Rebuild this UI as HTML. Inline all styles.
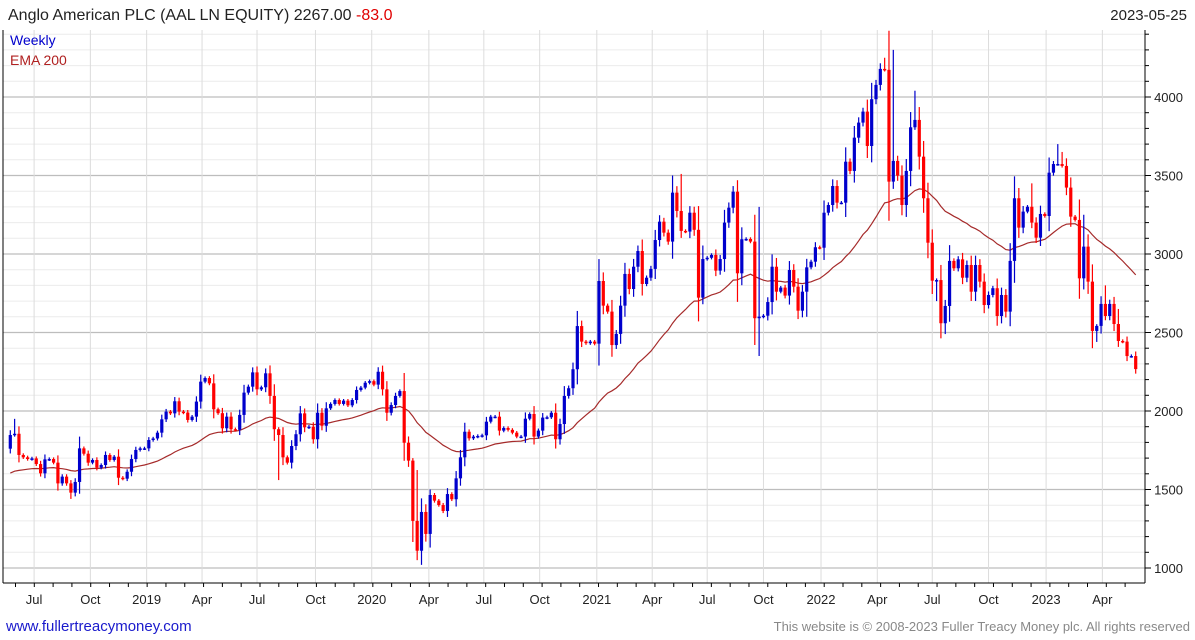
<!DOCTYPE html>
<html><head><meta charset="utf-8"><style>
body{margin:0;background:#fff;font-family:"Liberation Sans",sans-serif;}
svg{display:block}
</style></head><body>
<svg id="chart" width="1195" height="640" viewBox="0 0 1195 640" xmlns="http://www.w3.org/2000/svg" font-family="Liberation Sans, sans-serif">
<text x="8" y="20" font-size="16" fill="#222">Anglo American PLC (AAL LN EQUITY) 2267.00 <tspan fill="#e00000">-83.0</tspan></text>
<text x="1187" y="20" font-size="15" fill="#222" text-anchor="end">2023-05-25</text>
<g id="grid"></g>
<g id="ema"></g>
<g id="candles"></g>
<g id="axes"></g>
<text x="10" y="45" font-size="14" fill="#0000cc">Weekly</text>
<text x="10" y="65" font-size="14" fill="#b02020">EMA 200</text>
<text x="6" y="631" font-size="15" fill="#1a1acc">www.fullertreacymoney.com</text>
<text x="1190" y="631" font-size="13" fill="#888" text-anchor="end">This website is © 2008-2023 Fuller Treacy Money plc. All rights reserved</text>
</svg>
<script>
const closes=[1847,1855,1720,1705,1694,1698,1662,1603,1692,1694,1671,1539,1582,1539,1480,1548,1762,1728,1671,1688,1639,1656,1720,1688,1709,1575,1569,1613,1694,1752,1762,1762,1815,1825,1862,1947,1996,1985,2062,1996,1990,1943,1964,2060,2187,2210,2176,2011,1986,1890,1964,1884,1880,1975,2117,2155,2246,2138,2151,2240,2096,1884,1847,1705,1671,1777,1852,1985,1896,1900,1820,1989,1906,2017,2045,2070,2045,2066,2036,2070,2134,2149,2180,2190,2168,2250,2138,1989,2038,2096,2127,1798,1684,1300,1110,1357,1217,1465,1429,1401,1363,1471,1438,1571,1705,1868,1826,1837,1841,1845,1932,1964,1964,1875,1892,1880,1862,1837,1837,1951,1981,1837,1875,1958,1960,1989,1820,1917,2096,2145,2266,2541,2442,2432,2442,2429,2828,2671,2633,2420,2491,2671,2873,2777,2919,3019,2809,2849,2905,3089,3206,3136,3079,3391,3274,3147,3143,3263,3154,2722,2968,2976,2994,2894,2968,3200,3295,3397,2877,3094,3096,3079,2591,2601,2607,2694,2919,2760,2786,2735,2898,2792,2639,2760,2915,2951,3043,3040,3263,3312,3433,3327,3327,3588,3529,3741,3837,3907,3688,3986,4077,4179,4173,3461,3593,3499,3312,3529,3807,3854,3620,3355,3072,2830,2834,2559,2669,2956,2909,2966,2849,2930,2760,2930,2824,2675,2739,2782,2605,2739,2633,2956,3355,3168,3270,3301,3200,3104,3255,3242,3518,3573,3573,3561,3423,3238,3217,2845,3047,2824,2510,2542,2682,2605,2682,2554,2446,2442,2350,2350,2267];
const wickHigh={1:1950,93:1700,94:1624,97:1500,155:3510,168:3470,173:3300,202:4250,204:4300,209:4040,211:3720,236:3450,242:3700,243:3650,248:3250,253:2800,256:2650};
const wickLow={14:1440,62:1560,94:1050,95:1020,160:2680,173:2350,184:2600,214:2700,216:2490,231:2540,251:2440};
const firstOpen=1760;
const yTicks=[1000,1500,2000,2500,3000,3500,4000];
const xLabels=["Jul","Oct","2019","Apr","Jul","Oct","2020","Apr","Jul","Oct","2021","Apr","Jul","Oct","2022","Apr","Jul","Oct","2023","Apr"];
const xLabelWeeks=[5.5,18.5,31.5,44.3,57,70.5,83.5,96.7,109.4,122.3,135.5,148.3,161,174,187.3,200.3,213,226,239.3,252.3];
const emaSeed=1592;

const NS="http://www.w3.org/2000/svg";
const L=3,R=1145,T=30,B=583;
const n=closes.length;
function xs(i){return 10.3+i*(1125.4/(n-1));}
function ys(p){return 568-(p-1000)*0.157;}
function mk(tag,attrs,parent){const e=document.createElementNS(NS,tag);for(const k in attrs)e.setAttribute(k,attrs[k]);parent.appendChild(e);return e;}
const grid=document.getElementById('grid'),axes=document.getElementById('axes'),cg=document.getElementById('candles'),eg=document.getElementById('ema');
// horizontal grid
for(let p=900;p<=4400;p+=100){const y=ys(p);if(y<T||y>B)continue;
 const ln=mk('line',{x1:L,x2:R,y1:y,y2:y,stroke:p%500===0?'#bdbdbd':'#ececec','stroke-width':p%500===0?1.3:1},grid);
 
 
 const tk=mk('line',{x1:R,x2:R+(p%500===0?6:4),y1:y,y2:y,stroke:'#000'},axes);
 
 }
// vertical grid + labels
xLabels.forEach((lab,k)=>{const x=xs(xLabelWeeks[k]);
 const ln=mk('line',{x1:x,x2:x,y1:T,y2:B,stroke:'#dcdcdc'},grid);
 
 
 const t=mk('text',{x:x,y:604,'font-size':13,'text-anchor':'middle',fill:'#222'},axes);t.textContent=lab;
 
 });
for(let m=0;m<60;m++){const x=xs(1.2+m*4.345);if(x>R)break;const tk=mk('line',{x1:x,x2:x,y1:B,y2:B+4,stroke:'#000'},axes);
 
 }
yTicks.forEach(v=>{const t=mk('text',{x:1183,y:ys(v)+5,'font-size':13,'text-anchor':'end',fill:'#222'},axes);t.textContent=v;
 
 });
const ax1=mk('line',{x1:R,x2:R,y1:T,y2:B,stroke:'#000'},axes);
const ax2=mk('line',{x1:L,x2:R,y1:B,y2:B,stroke:'#000'},axes);
const ax3=mk('line',{x1:L,x2:L,y1:T,y2:B,stroke:'#000'},axes);
// EMA
let e=emaSeed,pts=[];const a=2/41;
closes.forEach((c,i)=>{e=e+a*(c-e);pts.push(xs(i).toFixed(1)+','+ys(e).toFixed(1));});
const pl=mk('polyline',{points:pts.join(' '),fill:'none',stroke:'#a52a2a','stroke-width':1.2},eg);


// candles
closes.forEach((c,i)=>{const o=i?closes[i-1]:firstOpen;const up=c>=o;const col=up?'#0000cc':'#ff0000';
 const top=Math.max(o,c),bot=Math.min(o,c),rng=Math.max(top-bot,30);
 const hi=wickHigh[i]!==undefined?wickHigh[i]:top+rng*0.35;
 const lo=wickLow[i]!==undefined?wickLow[i]:bot-rng*0.35;
 const x=xs(i);
 const w=mk('line',{x1:x,x2:x,y1:ys(hi),y2:ys(lo),stroke:col,'stroke-width':1.2},cg);
 
 
 const h=Math.max(ys(bot)-ys(top),1.5);
 const b=mk('rect',{x:x-1.6,y:ys(top),width:3.2,height:h,fill:col},cg);
 
 });
</script>
</body></html>
